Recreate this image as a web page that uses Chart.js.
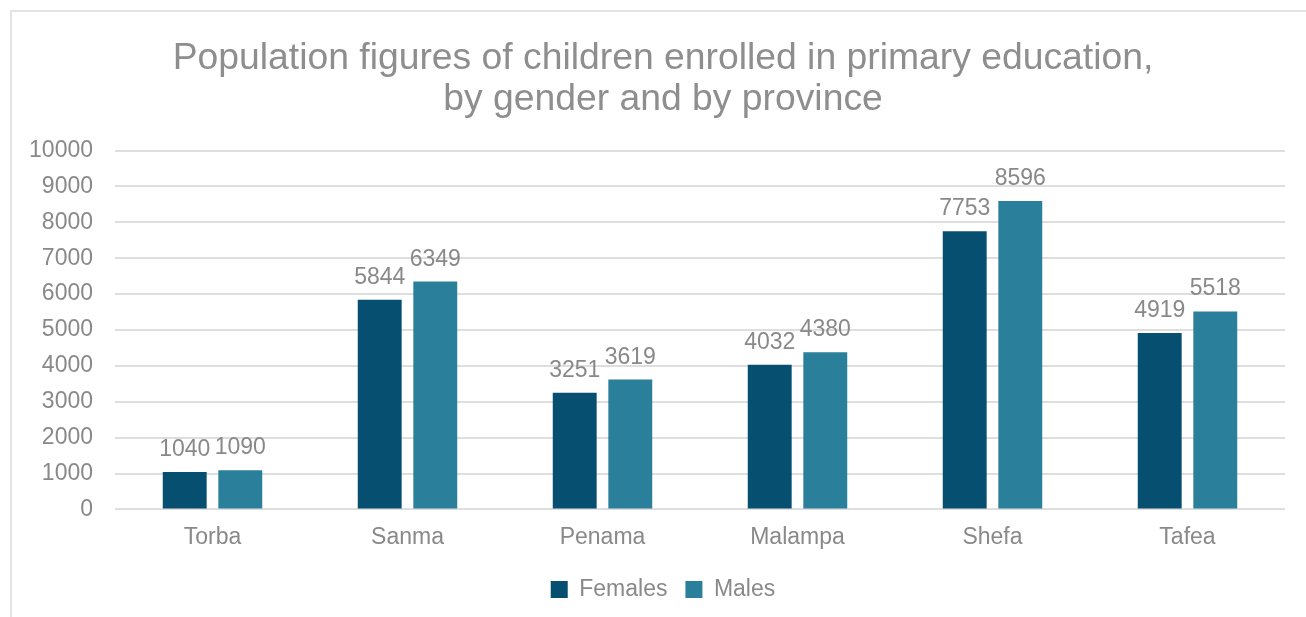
<!DOCTYPE html>
<html>
<head>
<meta charset="utf-8">
<script src="https://cdn.jsdelivr.net/npm/chart.js@4/dist/chart.umd.min.js"></script>
<style>
  html, body { margin: 0; padding: 0; background: #fff; overflow: hidden; }
  #frame {
    position: absolute; left: 10px; top: 10px;
    width: 1304px; height: 620px;
    border-top: 2px solid #e3e3e3; border-left: 2px solid #e3e3e3;
    box-sizing: border-box;
  }
  #chart { display: block; }
</style>
</head>
<body>
<div id="frame"><canvas id="chart" width="1302" height="618"></canvas></div>
<script>
const provinces = ['Torba', 'Sanma', 'Penama', 'Malampa', 'Shefa', 'Tafea'];
const females = [1040, 5844, 3251, 4032, 7753, 4919];
const males = [1090, 6349, 3619, 4380, 8596, 5518];
const seriesNames = ['Females', 'Males'];
const titleLines = ['Population figures of children enrolled in primary education,', 'by gender and by province'];

const textGrey = '#898989';
const fontFamily = '"Liberation Sans", Arial, sans-serif';

// value labels above every bar
const barValues = {
    id: 'barValues',
    afterDatasetsDraw(chart) {
        const ctx = chart.ctx;
        ctx.save();
        ctx.font = '23px ' + fontFamily;
        ctx.fillStyle = textGrey;
        ctx.textAlign = 'center';
        ctx.textBaseline = 'alphabetic';
        chart.data.datasets.forEach((ds, i) => {
            chart.getDatasetMeta(i).data.forEach((bar, j) => {
                ctx.fillText(String(ds.data[j]), bar.x, bar.y - 16);
            });
        });
        ctx.restore();
    }
};

new Chart(document.getElementById('chart').getContext('2d'), {
    type: 'bar',
    data: {
        labels: provinces,
        datasets: [
            { label: seriesNames[0], data: females, backgroundColor: '#074f71' },
            { label: seriesNames[1], data: males, backgroundColor: '#2a7f9a' }
        ]
    },
    options: {
        responsive: false,
        animation: false,
        categoryPercentage: 0.57,
        barPercentage: 0.79,
        layout: { padding: { left: 0, right: 0, top: 0, bottom: 19 } },
        plugins: {
            title: {
                display: true,
                text: titleLines,
                color: '#8e8e8e',
                font: { family: fontFamily, size: 37.3, weight: 'normal', lineHeight: 1.08 },
                padding: { top: 27, bottom: 31 }
            },
            legend: {
                position: 'bottom',
                labels: {
                    color: textGrey,
                    font: { family: fontFamily, size: 23 },
                    boxWidth: 17,
                    boxHeight: 17,
                    padding: 18
                }
            },
            tooltip: { enabled: false }
        },
        scales: {
            x: {
                grid: { display: false },
                border: { display: false },
                ticks: { color: textGrey, font: { family: fontFamily, size: 23 }, padding: 6 },
                afterFit(scale) { scale.height += 3; }
            },
            y: {
                min: 0,
                max: 10000,
                ticks: {
                    stepSize: 1000,
                    color: textGrey,
                    font: { family: fontFamily, size: 23 },
                    padding: 22,
                    callback: v => String(v)
                },
                grid: { color: '#dedede', lineWidth: 2, drawTicks: false },
                border: { display: false },
                afterFit(scale) { scale.width = 103; }
            },
            // empty right-hand margin so the plot stops short of the frame edge
            right: {
                position: 'right',
                ticks: { display: false },
                grid: { display: false },
                border: { display: false },
                afterFit(scale) { scale.width = 29; }
            }
        }
    },
    plugins: [barValues]
});
</script>
</body>
</html>
